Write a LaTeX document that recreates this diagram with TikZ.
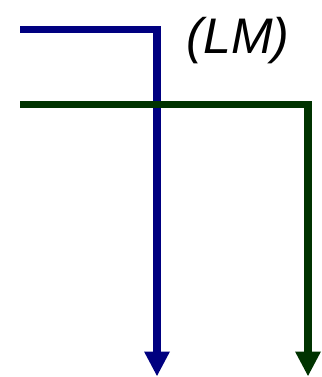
\documentclass[tikz,border=0pt]{standalone}
\usepackage{fontspec}
\setmainfont{Liberation Sans}
\usetikzlibrary{arrows.meta}
\definecolor{wireblue}{RGB}{0,0,128}
\definecolor{wiregreen}{RGB}{0,51,0}
\begin{document}
\begin{tikzpicture}[x=1pt,y=-1pt,
  wire/.style={line width=7.5pt,-{Triangle[length=25pt,width=24pt]}},
  lbl/.style={font=\fontsize{50}{54}\selectfont\itshape,inner sep=0pt}]
\useasboundingbox (0,0) rectangle (321,377);
\coordinate (bs) at (20,29.5);
\coordinate (bc) at (157,29.5);
\coordinate (be) at (157,376.5);
\coordinate (gs) at (20,104.5);
\coordinate (gc) at (308,104.5);
\coordinate (ge) at (308,376.5);
\draw[wire,wireblue] (bs) -- (bc) -- (be);
\draw[wire,wiregreen] (gs) -- (gc) -- (ge);
\node[lbl,anchor=base] (lm) at (238,54) {(LM)};
\end{tikzpicture}
\end{document}
